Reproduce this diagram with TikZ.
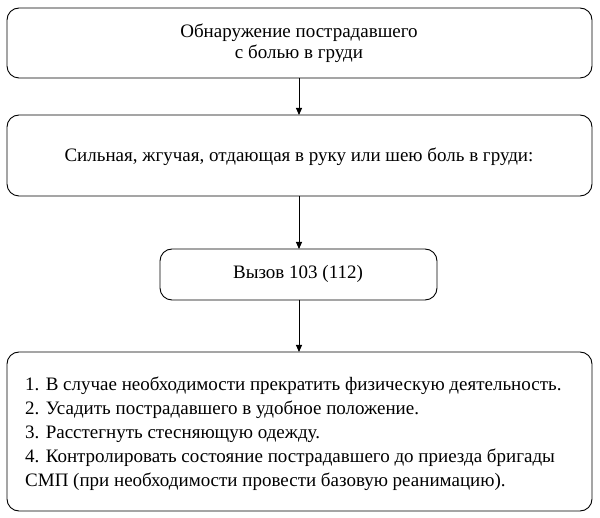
\documentclass[tikz,border=0pt]{standalone}
\usepackage{fontspec}
\setmainfont{Liberation Serif}
\usetikzlibrary{arrows.meta}
\begin{document}
\begin{tikzpicture}[x=1pt,y=-1pt,
  box/.style={draw,rounded corners=12pt,line width=0.9pt},
  arr/.style={-{Triangle[length=7pt,width=6pt]},line width=0.9pt},
  txt/.style={font=\fontsize{19}{21}\selectfont,align=center,inner sep=0pt}]
\useasboundingbox (0,0) rectangle (600,518);
\draw[box] (7,8) rectangle (592,78);
\node[txt] (t1) at (299,43) {Обнаружение пострадавшего\\с болью в груди};
\draw[box] (7,115) rectangle (592,196);
\node[txt] (t2) at (299,157) {Сильная, жгучая, отдающая в руку или шею боль в груди:};
\draw[box] (160,249) rectangle (437,300);
\node[txt] (t3) at (298,274) {Вызов 103 (112)};
\draw[box] (7,352) rectangle (592,511);
\node[txt,font=\fontsize{19}{24}\selectfont,align=left,anchor=west] (t4) at (25,434) {1. В случае необходимости прекратить физическую деятельность.\\
2. Усадить пострадавшего в удобное положение.\\
3. Расстегнуть стесняющую одежду.\\
4. Контролировать состояние пострадавшего до приезда бригады\\
СМП (при необходимости провести базовую реанимацию).};
\coordinate (a1) at (299,78); \coordinate (b1) at (299,115);
\coordinate (a2) at (299,196); \coordinate (b2) at (299,249);
\coordinate (a3) at (299,300); \coordinate (b3) at (299,352);
\draw[arr] (a1) -- (b1);
\draw[arr] (a2) -- (b2);
\draw[arr] (a3) -- (b3);
\end{tikzpicture}
\end{document}
